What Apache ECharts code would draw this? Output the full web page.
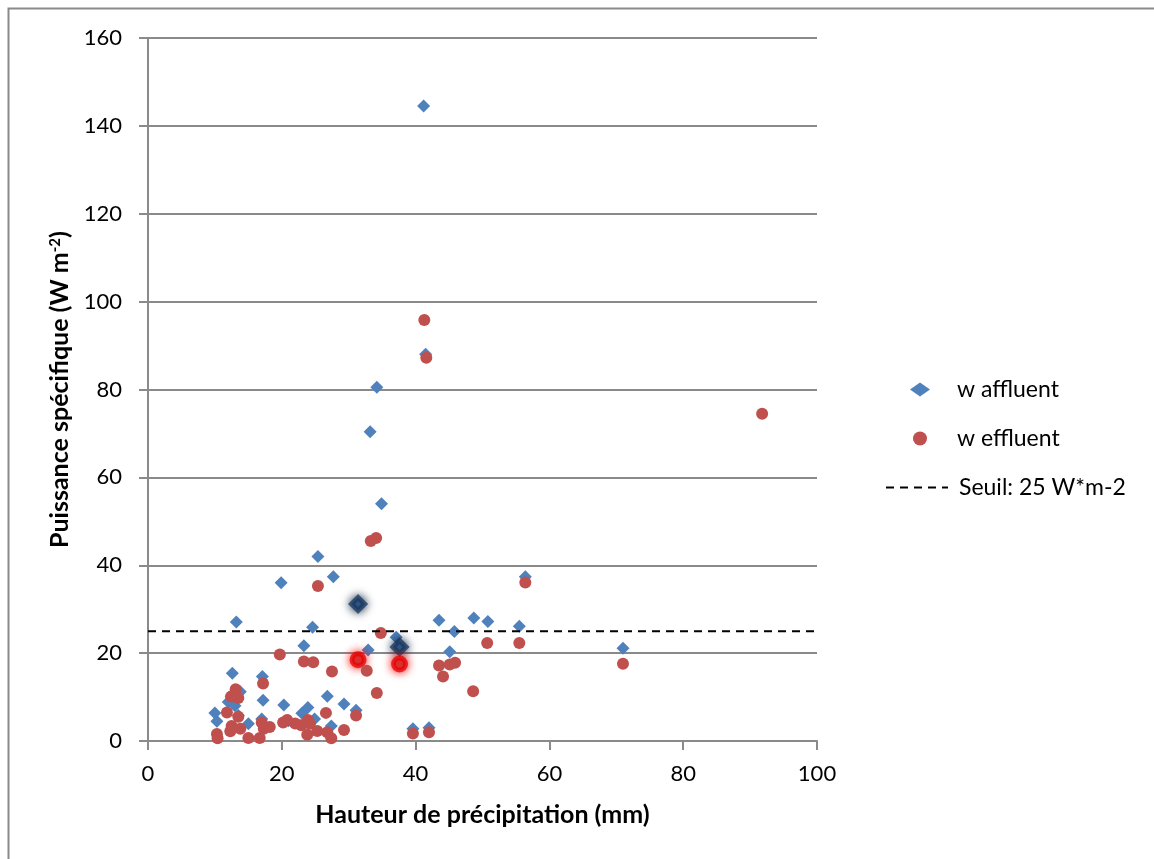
<!DOCTYPE html>
<html>
<head>
<meta charset="utf-8">
<script src="https://cdn.jsdelivr.net/npm/echarts@6/dist/echarts.min.js"></script>
<style>
html,body{margin:0;padding:0;background:#fff;}
#chart{width:1154px;height:859px;}
</style>
</head>
<body>
<div id="chart"></div>
<script>
// ---- data ----
const affluentPoints = [
  [41.2,144.5],[41.5,88.0],[34.2,80.5],[33.2,70.4],[34.9,54.0],[25.4,42.0],[27.7,37.4],[19.9,36.0],
  [56.4,37.4],[31.4,31.2],[13.2,27.1],[43.5,27.5],[48.7,28.0],[50.8,27.2],[55.5,26.1],[24.6,25.9],
  [45.8,24.9],[37.1,23.6],[37.6,21.4],[23.3,21.7],[32.9,20.7],[45.1,20.3],[71.0,21.1],[12.6,15.4],
  [17.1,14.7],[13.8,11.2],[17.2,9.3],[12.0,8.9],[20.3,8.2],[26.8,10.2],[29.3,8.4],[31.1,7.0],
  [23.9,7.6],[23.0,6.3],[24.9,5.0],[10.0,6.4],[10.3,4.5],[15.0,3.9],[17.0,5.0],[27.4,3.4],
  [39.6,2.8],[42.0,3.0],[13.5,5.8],[21.0,4.6],[13.0,8.0]
];
const affluentHighlighted = [9, 18];   // indices of glowing points

const effluentPoints = [
  [41.3,95.8],[41.6,87.2],[91.8,74.5],[34.1,46.2],[33.3,45.5],[25.4,35.3],[56.4,36.1],[34.8,24.6],
  [31.4,18.5],[37.6,17.5],[19.7,19.7],[23.3,18.1],[24.7,17.9],[32.7,16.0],[27.5,15.8],[43.5,17.2],
  [44.1,14.7],[45.1,17.4],[45.9,17.8],[50.7,22.3],[55.5,22.3],[71.0,17.6],[48.6,11.3],[34.2,10.9],
  [17.2,13.1],[13.1,11.8],[12.4,10.1],[13.5,9.8],[11.8,6.5],[13.5,5.5],[26.6,6.4],[31.1,5.8],
  [29.3,2.5],[12.5,3.4],[13.8,2.8],[12.3,2.2],[10.3,1.6],[10.4,0.6],[15.0,0.7],[16.7,0.7],
  [17.0,4.2],[17.3,2.8],[20.2,4.2],[20.8,4.8],[22.0,4.0],[22.9,3.6],[23.9,4.8],[24.2,3.9],
  [23.8,1.4],[25.3,2.3],[26.8,2.0],[27.4,0.6],[39.6,1.7],[42.0,2.0],[18.2,3.2]
];
const effluentHighlighted = [8, 9];

const thresholdValue = 25;
const thresholdRange = [0, 100];

const seriesNames = ['w affluent', 'w effluent', 'Seuil: 25 W*m-2'];
const xAxisTitle = 'Hauteur de précipitation (mm)';
const yAxisTitle = 'Puissance spécifique (W m{sup|-2})';

// ---- chart ----
const FONT = 'Lato';
const BLUE = '#4F81BD', RED = '#C0504D', GRAY = '#8A8A8A';

function withGlow(points, idx, glow, ring) {
  return points.map((p, i) => idx.includes(i)
    ? { value: p, itemStyle: { borderColor: ring, borderWidth: 5, shadowBlur: 10, shadowColor: glow } }
    : p);
}

const chart = echarts.init(document.getElementById('chart'), null, { renderer: 'canvas' });
chart.setOption({
  backgroundColor: '#fff',
  animation: false,
  graphic: [{
    type: 'rect', shape: { x: 8.5, y: 8.5, width: 1300, height: 1000 },
    style: { fill: 'none', stroke: GRAY, lineWidth: 2 }, silent: true, z: -1
  }],
  grid: { left: 148, right: 337, top: 38, bottom: 118, containLabel: false },
  legend: [{
    data: [seriesNames[0], seriesNames[1]],
    orient: 'vertical', left: 905, top: 373,
    itemWidth: 20, itemHeight: 14, itemGap: 26,
    textStyle: { fontFamily: FONT, fontSize: 23, color: '#000', padding: [0, 0, 0, 22], lineHeight: 22 }
  }, {
    data: [seriesNames[2]],
    orient: 'vertical', left: 880, top: 471,
    itemWidth: 62, itemHeight: 14,
    itemStyle: { opacity: 0 },
    textStyle: { fontFamily: FONT, fontSize: 23, color: '#000', padding: [0, 0, 0, 6], lineHeight: 22 }
  }],
  xAxis: {
    type: 'value', min: 0, max: 100, interval: 20,
    name: xAxisTitle, nameLocation: 'middle', nameGap: 61,
    nameTextStyle: { fontFamily: FONT, fontSize: 25, fontWeight: 'bold', color: '#000' },
    axisLine: { lineStyle: { color: GRAY, width: 2 } },
    axisTick: { show: true, inside: false, length: 9, lineStyle: { color: GRAY, width: 2 } },
    axisLabel: { fontFamily: FONT, fontSize: 22, color: '#000', margin: 22 },
    splitLine: { show: false }
  },
  yAxis: {
    type: 'value', min: 0, max: 160, interval: 20,
    name: yAxisTitle, nameLocation: 'middle', nameGap: 74, nameRotate: 90,
    nameTextStyle: {
      fontFamily: FONT, fontSize: 25, fontWeight: 'bold', color: '#000',
      rich: { sup: { fontFamily: FONT, fontSize: 15, fontWeight: 'bold', color: '#000', verticalAlign: 'top', padding: [0, 0, 9, 0] } }
    },
    axisLine: { show: true, lineStyle: { color: GRAY, width: 2 } },
    axisTick: { show: true, inside: false, length: 9, lineStyle: { color: GRAY, width: 2 } },
    axisLabel: { fontFamily: FONT, fontSize: 22, color: '#000', margin: 26 },
    splitLine: { show: true, lineStyle: { color: GRAY, width: 2 } }
  },
  series: [{
    name: seriesNames[0], type: 'scatter', symbol: 'diamond', symbolSize: 13,
    itemStyle: { color: BLUE, opacity: 1 },
    data: withGlow(affluentPoints, affluentHighlighted, '#0F2540', 'rgba(23,54,93,0.75)'), z: 3
  }, {
    name: seriesNames[1], type: 'scatter', symbol: 'circle', symbolSize: 12,
    itemStyle: { color: RED, opacity: 1 },
    data: withGlow(effluentPoints, effluentHighlighted, '#FF0000', 'rgba(230,0,0,0.75)'), z: 4
  }, {
    name: seriesNames[2], type: 'line', symbol: 'none', showSymbol: false,
    lineStyle: { color: '#000', width: 2, type: [8, 6] },
    itemStyle: { color: '#000' },
    data: thresholdRange.map(x => [x, thresholdValue]), z: 5
  }]
});
</script>
</body>
</html>
